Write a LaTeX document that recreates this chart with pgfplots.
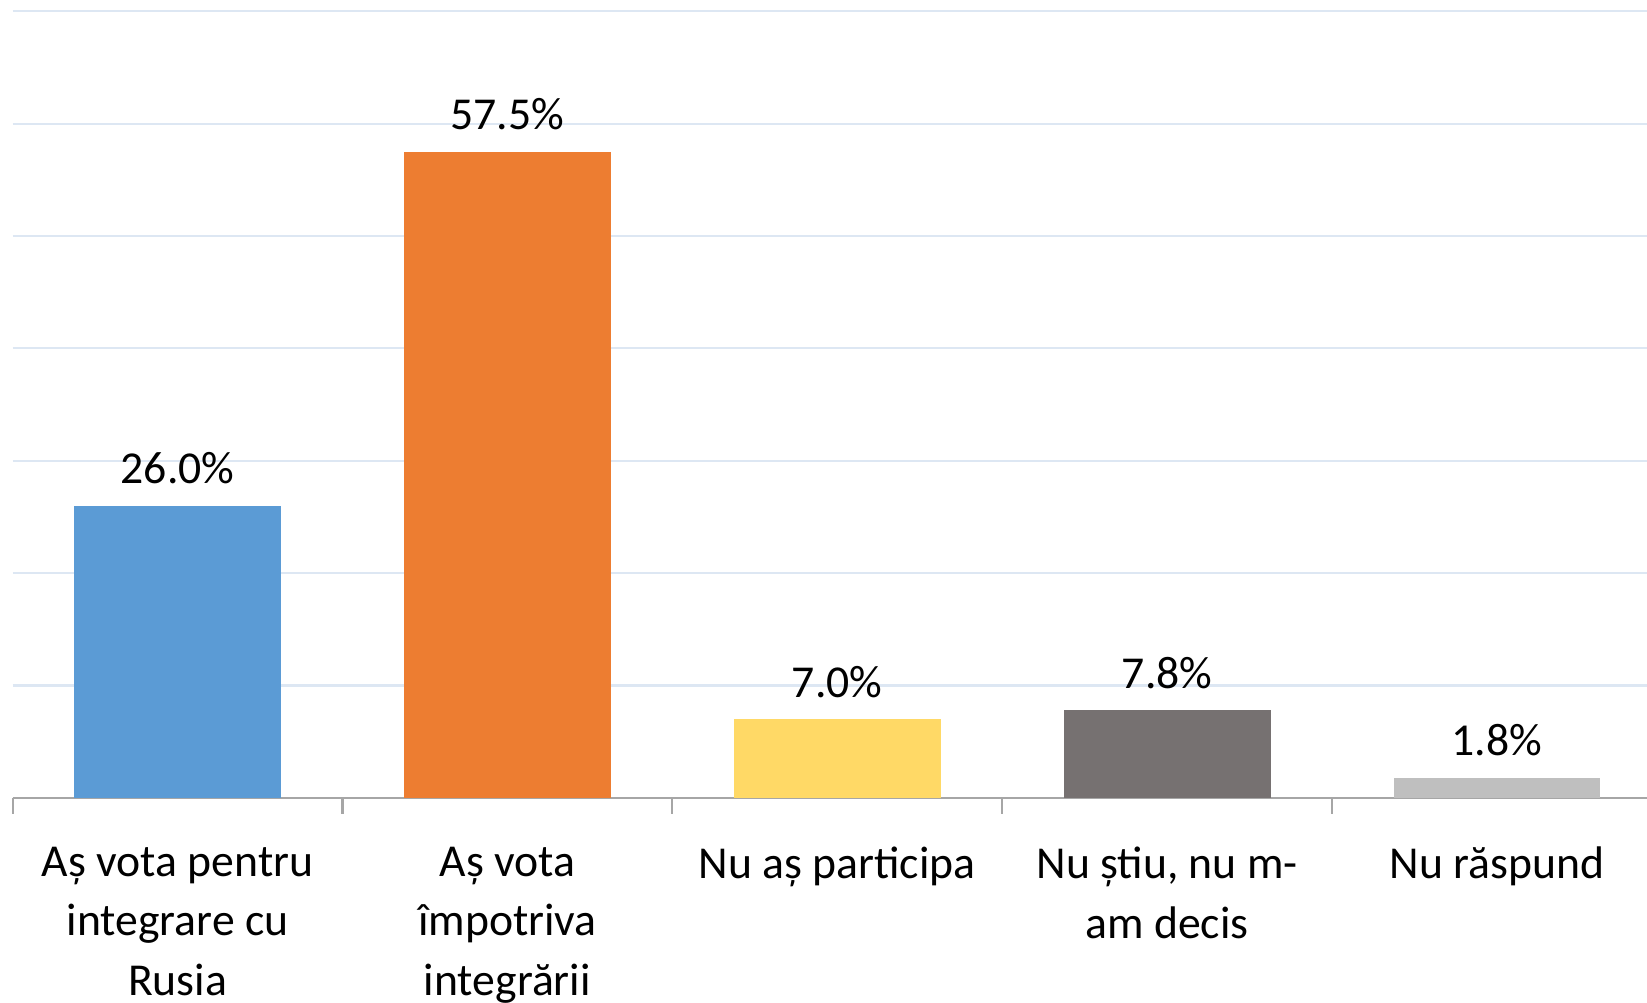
\documentclass[border=0pt]{standalone}
\usepackage{fontspec}
\setmainfont{Carlito}
\usepackage{pgfplots}
\pgfplotsset{compat=1.18}

\definecolor{cBlue}{HTML}{5B9BD5}
\definecolor{cOrange}{HTML}{ED7D31}
\definecolor{cYellow}{HTML}{FFD966}
\definecolor{cDark}{HTML}{767171}
\definecolor{cLight}{HTML}{BFBFBF}
\definecolor{gridc}{HTML}{DDE7F3}
\definecolor{axisc}{HTML}{A6A6A6}

\begin{document}
\begin{tikzpicture}
\begin{axis}[
  scale only axis,
  width=16.344cm, height=7.98cm,
  xmin=-0.5, xmax=4.455,
  ymin=0, ymax=71,
  ybar, bar width=0.627, bar shift=0pt,
  axis x line*=bottom,
  axis y line*=left,
  y axis line style={draw=none},
  x axis line style={axisc, line width=0.6pt},
  ymajorgrids, ytick={10,20,...,70},
  ytick style={draw=none},
  grid style={gridc, line width=0.6pt},
  yticklabels={},
  xtick={0,1,2,3,4},
  xticklabels={{Aș vota pentru\\integrare cu\\Rusia},{Aș vota\\împotriva\\integrării},{Nu aș participa},{Nu știu, nu m-\\am decis},{Nu răspund}},
  minor xtick={-0.5,0.5,1.5,2.5,3.5},
  major tick length=0pt,
  minor tick length=1.6mm,
  tick align=outside,
  minor tick style={axisc, line width=0.6pt},
  xticklabel style={align=center, font=\fontsize{13}{17}\selectfont, anchor=north, yshift=-3.65mm},
  nodes near coords={\pgfmathprintnumber[fixed,fixed zerofill,precision=1]{\pgfplotspointmeta}\%},
  every node near coord/.append style={font=\fontsize{13}{15}\selectfont, black, yshift=0.9mm},
  /pgf/number format/assume math mode=true,
]
\addplot[fill=cBlue, draw=none] coordinates {(0,26.0)};
\addplot[fill=cOrange, draw=none] coordinates {(1,57.5)};
\addplot[fill=cYellow, draw=none] coordinates {(2,7.0)};
\addplot[fill=cDark, draw=none] coordinates {(3,7.8)};
\addplot[fill=cLight, draw=none] coordinates {(4,1.8)};
\coordinate (sw) at (rel axis cs:0,0);
\coordinate (ne) at (rel axis cs:1,1);
\end{axis}
\pgfresetboundingbox
\path[use as bounding box] ([xshift=-1.26mm,yshift=-20.5mm]sw) rectangle (ne);
\end{tikzpicture}
\end{document}
